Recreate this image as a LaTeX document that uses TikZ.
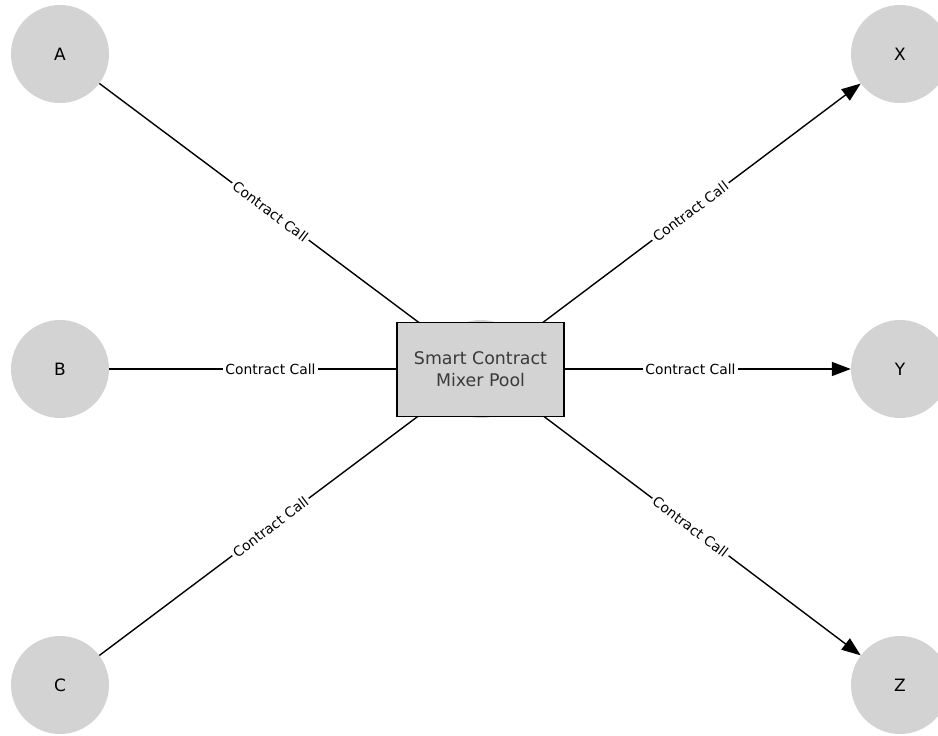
\documentclass[tikz,border=0pt]{standalone}
\usepackage{fontspec}
\setmainfont{DejaVu Sans}
\usetikzlibrary{arrows.meta}
\definecolor{nodegray}{HTML}{D3D3D3}
\definecolor{pooltext}{HTML}{3A3A3A}
\begin{document}
\begin{tikzpicture}[x=1pt,y=-1pt,
  party/.style={circle,fill=nodegray,minimum size=98pt,inner sep=0pt,
    font=\fontsize{17}{20}\selectfont},
  link/.style={line width=1.4pt,black},
  flow/.style={link,-{Triangle[length=19pt,width=14pt]}},
  lbl/.style={midway,sloped,fill=white,inner sep=2.5pt,
    font=\fontsize{13.9}{16}\selectfont},
  poolbox/.style={draw=black,line width=1.6pt,fill=nodegray,
    minimum width=167pt,minimum height=94pt,align=center,text=pooltext,
    font=\fontsize{17.4}{22}\selectfont}]
\useasboundingbox (0,0) rectangle (938,736);
% participants
\node[party] (A) at (60,54) {A};
\node[party] (B) at (60,369) {B};
\node[party] (C) at (60,685) {C};
\node[party] (X) at (900,54) {X};
\node[party] (Y) at (900,369) {Y};
\node[party] (Z) at (900,685) {Z};
\node[party] (M) at (481,369) {};
% calls into and out of the pool
\draw[link] (A) -- (M) node[lbl] {Contract Call};
\draw[link] (B) -- (M) node[lbl] {Contract Call};
\draw[link] (C) -- (M) node[lbl] {Contract Call};
\draw[flow] (M) -- (X) node[lbl] {Contract Call};
\draw[flow] (M) -- (Y) node[lbl] {Contract Call};
\draw[flow] (M) -- (Z) node[lbl] {Contract Call};
% mixer contract on top
\node[poolbox] (pool) at (480.5,369.5) {Smart Contract\\Mixer Pool};
\end{tikzpicture}
\end{document}
